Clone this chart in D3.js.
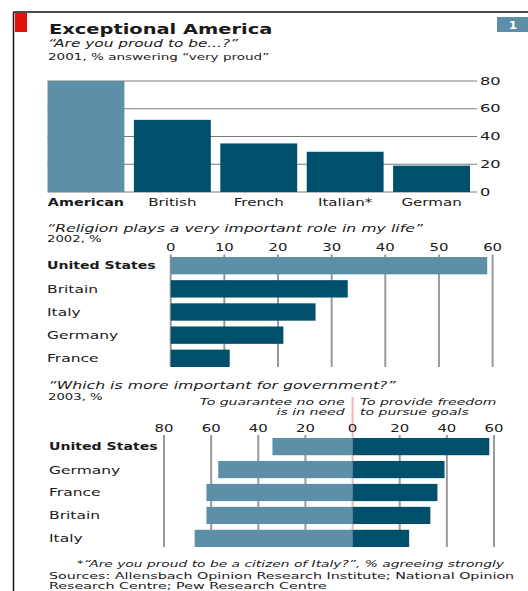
<!DOCTYPE html>
<html><head><meta charset="utf-8">
<script src="https://cdn.jsdelivr.net/npm/d3@7"></script>
<style>
html,body{margin:0;padding:0;background:#fff;}
svg{display:block;font-family:"DejaVu Sans",sans-serif;}
</style></head>
<body>
<svg id="c" width="528" height="591"></svg>
<script>
// ---- data ----
const proudCats = ["American","British","French","Italian*","German"];
const proudVals = [80,52,35,29,19];
const proudTicks = [0,20,40,60,80];

const relCats = ["United States","Britain","Italy","Germany","France"];
const relVals = [59,33,27,21,11];
const relTicks = [0,10,20,30,40,50,60];

const govCats = ["United States","Germany","France","Britain","Italy"];
const govNeed = [34,57,62,62,67];
const govFreedom = [58,39,36,33,24];
const govTicks = [-80,-60,-40,-20,0,20,40,60];

// ---- style ----
const LIGHT = "#5d8fa8", DARK = "#00506b", GRID = "#9a9a9a", TXT = "#1a1a1a";
const SX = 1.35; // horizontal stretch of the lettering

const svg = d3.select("#c");
svg.append("rect").attr("width",528).attr("height",591).attr("fill","#fff");

// frame
svg.append("line").attr("x1",13.5).attr("x2",528).attr("y1",12).attr("y2",12).attr("stroke","#111").attr("stroke-width",1.5);
svg.append("line").attr("x1",13.5).attr("x2",13.5).attr("y1",12).attr("y2",591).attr("stroke","#111").attr("stroke-width",1.5);
svg.append("rect").attr("x",15).attr("y",13).attr("width",12).attr("height",19).attr("fill","#e3120b");
svg.append("rect").attr("x",497).attr("y",17).attr("width",31).attr("height",15).attr("fill",LIGHT);

function txt(x,y,s,o={}){
  const g = svg.append("g").attr("transform",`translate(${x},${y}) scale(${o.sx||SX},1)`);
  const t = g.append("text").attr("fill",o.fill||TXT).attr("font-size",o.size||11).text(s);
  if(o.bold) t.attr("font-weight","bold");
  if(o.italic) t.attr("font-style","italic");
  if(o.anchor) t.attr("text-anchor",o.anchor);
  if(o.dy) t.attr("dy",o.dy);
  return t;
}
// label set drawn through a selection
function labels(parent, data, xf, yf, textf, o={}){
  const g = parent.selectAll(null).data(data).join("g")
    .attr("transform",(d,i)=>`translate(${xf(d,i)},${yf(d,i)}) scale(${o.sx||SX},1)`);
  g.append("text").attr("fill",TXT)
    .attr("text-anchor",o.anchor||"start").attr("dy",o.dy||null)
    .attr("font-weight",(d,i)=>(o.boldFirst&&i===0)?"bold":"normal")
    .attr("font-size",(d,i)=>(o.boldFirst&&i===0&&o.boldSize)?o.boldSize:(o.size||11))
    .text(textf);
  return g;
}

txt(513,29,"1",{size:10,bold:true,fill:"#fff",anchor:"middle",sx:1.2});
txt(49,33.5,"Exceptional America",{size:14.4,bold:true});
txt(48,46.5,"\u201CAre you proud to be...?\u201D",{size:10.8,italic:true,sx:1.42});
txt(48,59.5,"2001, % answering \u201Cvery proud\u201D",{size:9.4,sx:1.44});

// ---- chart 1 ----
const x1 = d3.scaleBand().domain(proudCats).range([47.5,470]).paddingInner(0.11).paddingOuter(0);
const y1 = d3.scaleLinear().domain([0,80]).range([192,81]);
const g1 = svg.append("g");
g1.selectAll("line.grid").data(proudTicks).join("line")
  .attr("x1",47.5).attr("x2",477).attr("y1",d=>y1(d)).attr("y2",d=>y1(d))
  .attr("stroke","#7a7a7a").attr("stroke-width",1);
labels(g1, proudTicks, ()=>480, d=>y1(d), d=>d, {size:10.5, sx:1.55, dy:"0.35em"});
g1.selectAll("rect").data(proudCats).join("rect")
  .attr("x",d=>x1(d)).attr("width",x1.bandwidth())
  .attr("y",(d,i)=>y1(proudVals[i])).attr("height",(d,i)=>y1(0)-y1(proudVals[i]))
  .attr("fill",(d,i)=>i===0?LIGHT:DARK);
labels(g1, proudCats, d=>x1(d)+x1.bandwidth()/2, ()=>205.5, d=>d,
  {size:11, anchor:"middle", boldFirst:true, boldSize:10.5, sx:1.37});

// ---- chart 2 ----
txt(47,231.5,"\u201CReligion plays a very important role in my life\u201D",{size:11,italic:true,sx:1.43});
txt(47,242,"2002, %",{size:9.2,sx:1.44});
const x2 = d3.scaleLinear().domain([0,60]).range([170.7,492.6]);
const y2 = d3.scaleBand().domain(relCats).range([257,367]).paddingInner(0.25).paddingOuter(0);
const g2 = svg.append("g");
g2.selectAll("line").data(relTicks).join("line")
  .attr("x1",d=>x2(d)).attr("x2",d=>x2(d)).attr("y1",254.5).attr("y2",367)
  .attr("stroke",GRID).attr("stroke-width",2);
labels(g2, relTicks, d=>x2(d), ()=>250.5, d=>d, {size:10.5, anchor:"middle", sx:1.42});
g2.selectAll("rect").data(relCats).join("rect")
  .attr("x",x2(0)).attr("y",d=>y2(d)).attr("height",y2.bandwidth())
  .attr("width",(d,i)=>x2(relVals[i])-x2(0))
  .attr("fill",(d,i)=>i===0?LIGHT:DARK);
labels(g2, relCats, ()=>47, d=>y2(d)+y2.bandwidth()/2, d=>d,
  {size:11, dy:"0.36em", boldFirst:true, boldSize:10, sx:1.41});

// ---- chart 3 ----
txt(48.5,389,"\u201CWhich is more important for government?\u201D",{size:11,italic:true,sx:1.43});
txt(48,399.5,"2003, %",{size:9.2,sx:1.44});
const x3 = d3.scaleLinear().domain([-80,60]).range([164,494]);
const y3 = d3.scaleBand().domain(govCats).range([438,547]).paddingInner(0.25).paddingOuter(0);
const g3 = svg.append("g");
g3.selectAll("line.grid").data(govTicks.filter(d=>d!==0)).join("line")
  .attr("x1",d=>x3(d)).attr("x2",d=>x3(d)).attr("y1",435).attr("y2",547)
  .attr("stroke",GRID).attr("stroke-width",2);
g3.append("line").attr("x1",x3(0)).attr("x2",x3(0)).attr("y1",397).attr("y2",547)
  .attr("stroke","#f4b4b4").attr("stroke-width",2);
labels(g3, govTicks, d=>x3(d), ()=>431.5, d=>Math.abs(d), {size:10.5, anchor:"middle", sx:1.42});
txt(x3(0)-8,404.5,"To guarantee no one",{size:9,italic:true,anchor:"end",sx:1.56});
txt(x3(0)-8,415,"is in need",{size:9,italic:true,anchor:"end",sx:1.56});
txt(x3(0)+7.5,404.5,"To provide freedom",{size:9,italic:true,sx:1.56});
txt(x3(0)+7.5,415,"to pursue goals",{size:9,italic:true,sx:1.56});
g3.selectAll("rect.need").data(govCats).join("rect").attr("class","need")
  .attr("x",(d,i)=>x3(-govNeed[i])).attr("width",(d,i)=>x3(0)-x3(-govNeed[i]))
  .attr("y",d=>y3(d)).attr("height",y3.bandwidth()).attr("fill",LIGHT);
g3.selectAll("rect.free").data(govCats).join("rect").attr("class","free")
  .attr("x",x3(0)).attr("width",(d,i)=>x3(govFreedom[i])-x3(0))
  .attr("y",d=>y3(d)).attr("height",y3.bandwidth()).attr("fill",DARK);
labels(g3, govCats, ()=>49, d=>y3(d)+y3.bandwidth()/2, d=>d,
  {size:11, dy:"0.36em", boldFirst:true, boldSize:10, sx:1.41});

// ---- footnotes ----
txt(504,567,"*\u201CAre you proud to be a citizen of Italy?\u201D, % agreeing strongly",{size:9.4,italic:true,anchor:"end",sx:1.47});
txt(49,578.5,"Sources: Allensbach Opinion Research Institute; National Opinion",{size:9.4,sx:1.52});
txt(49,588.5,"Research Centre; Pew Research Centre",{size:9.4,sx:1.52});
</script>
</body></html>
